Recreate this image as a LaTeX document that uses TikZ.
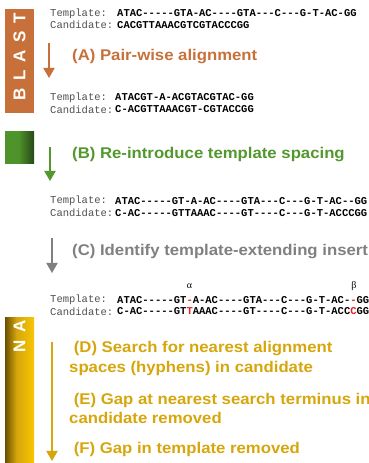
\documentclass[tikz,border=0pt]{standalone}
\usepackage{fontspec}
\setmainfont{Liberation Sans}
\setmonofont{Liberation Mono}
\newfontfamily\serifgreek{Liberation Serif}
\newfontfamily\barfont[LetterSpace=45]{Liberation Sans}
\newfontfamily\headfont[FakeStretch=1.08]{Liberation Sans}
\usepackage{xcolor}
\usetikzlibrary{arrows}

\definecolor{blastorange}{RGB}{200,112,58}
\definecolor{reintgreen}{RGB}{82,152,44}
\definecolor{grnlight}{RGB}{78,148,42}
\definecolor{grndark}{RGB}{40,72,24}
\definecolor{identgrey}{RGB}{128,128,128}
\definecolor{nagold}{RGB}{214,166,12}
\definecolor{nadark}{RGB}{105,80,0}
\definecolor{nayellow}{RGB}{248,198,0}
\definecolor{labelgrey}{RGB}{80,80,80}
\definecolor{gapred}{RGB}{230,30,30}

\pgfdeclarehorizontalshading{greenshade}{100bp}{color(0bp)=(grnlight); color(25bp)=(grnlight); color(48bp)=(grnlight); color(75bp)=(grndark); color(100bp)=(grndark)}
\pgfdeclarehorizontalshading{nashade}{100bp}{color(0bp)=(nadark); color(25bp)=(nadark); color(45bp)=(nagold); color(75bp)=(nayellow); color(100bp)=(nayellow)}

\newcommand{\redmark}[1]{\textcolor{gapred}{#1}}

\begin{document}
\begin{tikzpicture}[x=1pt,y=-1pt,>=triangle 60,
    side bar/.style={inner sep=0pt,minimum width=29pt},
    bar text/.style={rotate=90,text=white,font=\barfont\bfseries\fontsize{17}{17}\selectfont},
    seq label/.style={anchor=west,inner sep=0pt,text=labelgrey,font=\ttfamily\fontsize{10.5}{12}\selectfont},
    seq/.style={anchor=west,inner sep=0pt,font=\ttfamily\bfseries\fontsize{10.5}{12}\selectfont},
    heading/.style={anchor=west,inner sep=0pt,align=left,font=\headfont\bfseries\fontsize{15.5}{19.5}\selectfont},
    step arrow/.style={->,line width=1.8pt}]
  \useasboundingbox (0,0) rectangle (368,463);
  \clip (0,0) rectangle (368,463);

  % Side bars
  \node[side bar,fill=blastorange,minimum height=104pt] (blastbar) at (19.5,61) {};
  \node[bar text] (blasttext) at (19.5,57) {BLAST};
  \node[side bar,shading=greenshade,minimum height=32pt] (greenbox) at (19.5,147) {};
  \node[side bar,shading=nashade,minimum height=146pt] (nabar) at (19.5,390) {};
  \node[bar text] (natext) at (19.5,336) {NA};

  % Alignments
  \node[seq label] (tmpl1) at (50,13.5) {Template:};
  \node[seq] (tmplseq1) at (117,13.5) {ATAC-----GTA-AC----GTA---C---G-T-AC-GG};
  \node[seq label] (cand1) at (50,25) {Candidate:};
  \node[seq] (candseq1) at (117,25) {CACGTTAAACGTCGTACCCGG};

  \node[seq label] (tmpl2) at (50,97.5) {Template:};
  \node[seq] (tmplseq2) at (115,97.5) {ATACGT-A-ACGTACGTAC-GG};
  \node[seq label] (cand2) at (50,109.5) {Candidate:};
  \node[seq] (candseq2) at (115,109.5) {C-ACGTTAAACGT-CGTACCGG};

  \node[seq label] (tmpl3) at (50,201) {Template:};
  \node[seq] (tmplseq3) at (115,201) {ATAC-----GT-A-AC----GTA---C---G-T-AC--GG};
  \node[seq label] (cand3) at (50,213) {Candidate:};
  \node[seq] (candseq3) at (115,213) {C-AC-----GTTAAAC----GT----C---G-T-ACCCGG};

  \node[font=\serifgreek\fontsize{10}{12}\selectfont] (alpha) at (189.5,286) {α};
  \node[font=\serifgreek\fontsize{10}{12}\selectfont] (beta) at (354,286) {β};
  \node[seq label] (tmpl4) at (50,300) {Template:};
  \node[seq] (tmplseq4) at (117,300) {ATAC-----GT\redmark{-}A-AC----GTA---C---G-T-AC-\redmark{-}GG};
  \node[seq label] (cand4) at (50,311.5) {Candidate:};
  \node[seq] (candseq4) at (117,311.5) {C-AC-----GT\redmark{T}AAAC----GT----C---G-T-ACC\redmark{C}GG};

  % Steps
  \node[heading,text=blastorange] (stepA) at (72,57) {(A) Pair-wise alignment};
  \node[heading,text=reintgreen] (stepB) at (72,155) {(B) Re-introduce template spacing};
  \node[heading,text=identgrey] (stepC) at (72,252) {(C) Identify template-extending insert};
  \node[heading,text=nagold] (stepD) at (69,358.5) {\ (D) Search for nearest alignment\\spaces (hyphens) in candidate};
  \node[heading,text=nagold] (stepE) at (69,408.5) {\ (E) Gap at nearest search terminus in\\candidate removed};
  \node[heading,text=nagold] (stepF) at (69,449) {\ (F) Gap in template removed};

  % Arrows
  \coordinate (aStart) at (49,43);
  \coordinate (aEnd) at (49,78);
  \coordinate (bStart) at (50,147);
  \coordinate (bEnd) at (50,181);
  \coordinate (cStart) at (52,238);
  \coordinate (cEnd) at (52,273);
  \coordinate (dStart) at (52,342);
  \coordinate (dEnd) at (52,461);
  \draw[step arrow,blastorange] (aStart) -- (aEnd);
  \draw[step arrow,reintgreen] (bStart) -- (bEnd);
  \draw[step arrow,identgrey] (cStart) -- (cEnd);
  \draw[step arrow,nagold] (dStart) -- (dEnd);
\end{tikzpicture}
\end{document}
